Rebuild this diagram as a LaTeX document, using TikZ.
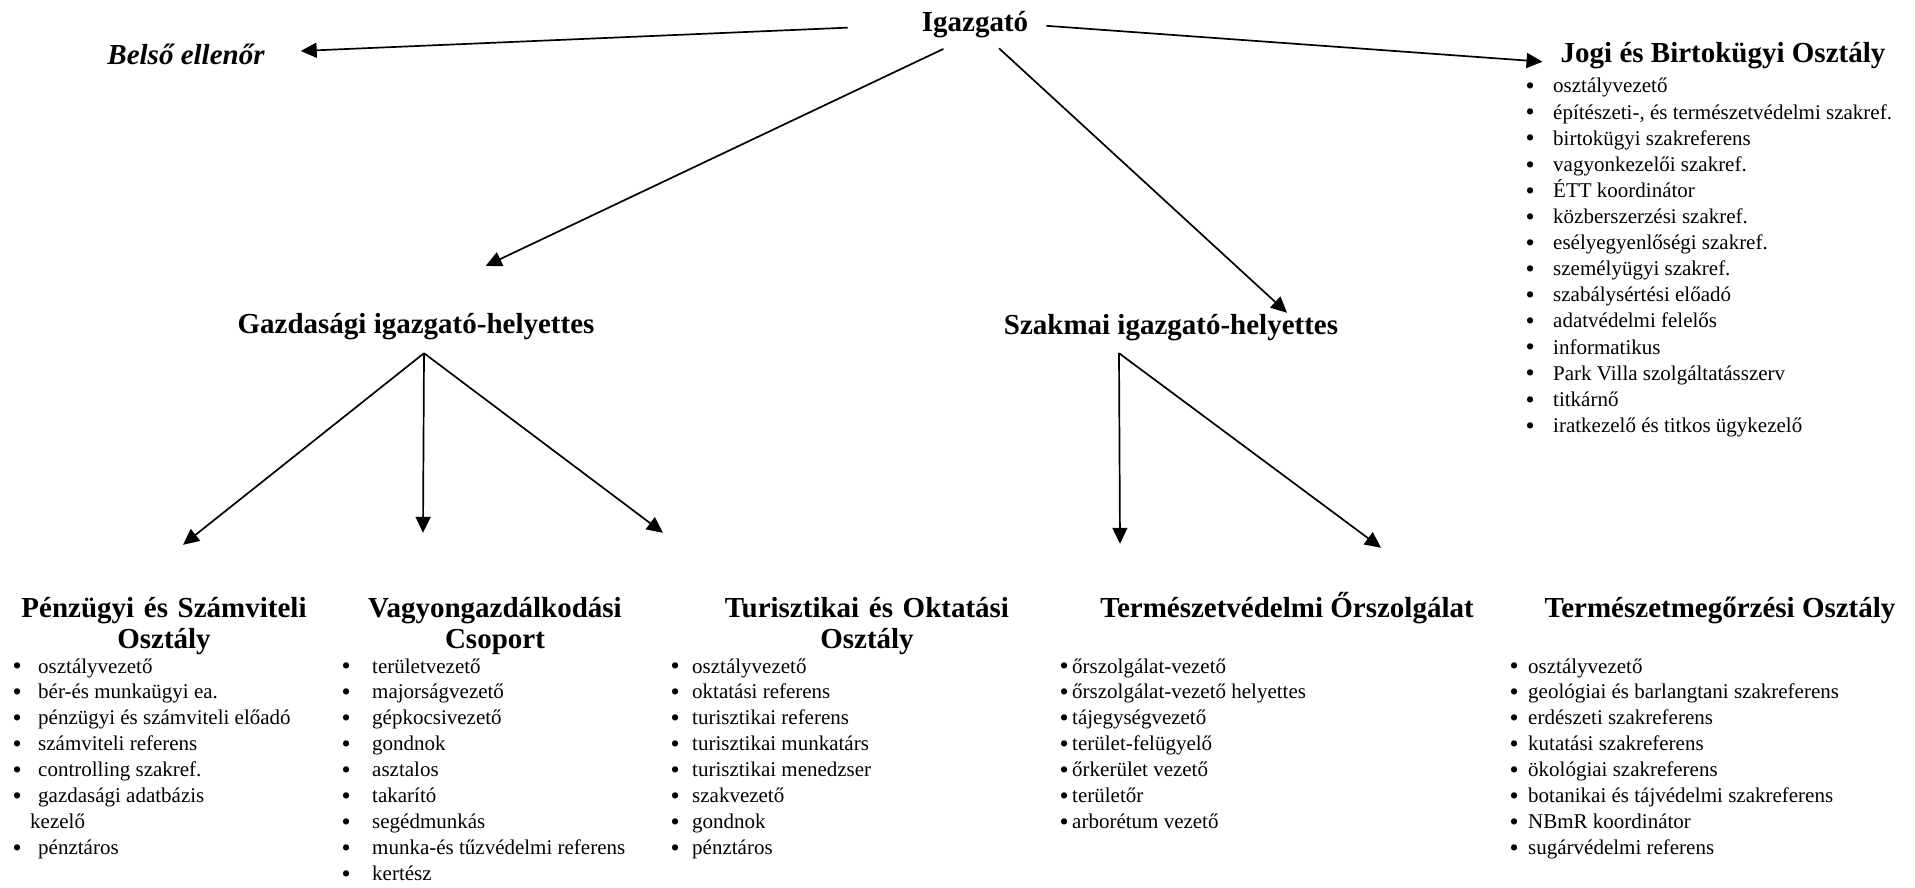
\documentclass[tikz,border=0pt]{standalone}
\usepackage{fontspec}
\setmainfont{Liberation Serif}
\usetikzlibrary{arrows.meta}
\newcommand{\pont}[1]{\makebox[#1][l]{\raisebox{-1.8pt}{\fontsize{26}{26}\selectfont•}}}
\begin{document}
\begin{tikzpicture}[x=1pt,y=-1pt,
  cim/.style={font=\fontsize{29}{31}\selectfont\bfseries, inner sep=0pt, anchor=base, text height=21pt},
  egysor/.style={cim, text depth=6pt},
  ketsor/.style={cim, text width=300pt, align=center},
  elem/.style={font=\fontsize{21}{26}\selectfont, inner sep=0pt, anchor=base west},
  nyil/.style={-{Triangle[length=16pt,width=15pt]}, line width=1.7pt}]
\useasboundingbox (0,0) rectangle (1915,888);

\node(ig)[egysor] at (975,32) {Igazgató};
\node(belso)[egysor,font=\fontsize{29}{31}\selectfont\bfseries\itshape] at (186,65) {Belső ellenőr};
\node(jogi)[egysor] at (1723,63) {Jogi és Birtokügyi Osztály};
\node(gazd)[egysor] at (416,333) {Gazdasági igazgató-helyettes};
\node(szak)[egysor] at (1171,334) {Szakmai igazgató-helyettes};
\node(penz)[ketsor] at (164,617) {Pénzügyi és Számviteli\\Osztály};
\node(vagy)[ketsor] at (495,617) {Vagyongazdálkodási\\Csoport};
\node(tur)[ketsor] at (867,617) {Turisztikai és Oktatási\\Osztály};
\node(tv)[egysor] at (1287,617) {Természetvédelmi Őrszolgálat};
\node(tm)[egysor] at (1720,617) {Természetmegőrzési Osztály};

\foreach \t [count=\i from 0] in {osztályvezető, {építészeti-, és természetvédelmi szakref.}, birtokügyi szakreferens, vagyonkezelői szakref., ÉTT koordinátor, közberszerzési szakref., esélyegyenlőségi szakref., személyügyi szakref., szabálysértési előadó, adatvédelmi felelős, informatikus, Park Villa szolgáltatásszerv, titkárnő, iratkezelő és titkos ügykezelő}
  \node(jogi-\i)[elem] at (1525.5,93+26.1*\i) {\pont{27.5pt}\ignorespaces\t};

\foreach \t [count=\i from 0] in {osztályvezető, bér-és munkaügyi ea., pénzügyi és számviteli előadó, számviteli referens, controlling szakref., gazdasági adatbázis}
  \node(penz-\i)[elem] at (12.5,673+25.9*\i) {\pont{25.5pt}\ignorespaces\t};
\node(penz-6)[elem] at (30,673+25.9*6) {kezelő};
\node(penz-7)[elem] at (12.5,673+25.9*7) {\pont{25.5pt}pénztáros};

\foreach \t [count=\i from 0] in {területvezető, majorságvezető, gépkocsivezető, gondnok, asztalos, takarító, segédmunkás, munka-és tűzvédelmi referens, kertész}
  \node(vagy-\i)[elem] at (341.5,673+25.9*\i) {\pont{30.5pt}\ignorespaces\t};

\foreach \t [count=\i from 0] in {osztályvezető, oktatási referens, turisztikai referens, turisztikai munkatárs, turisztikai menedzser, szakvezető, gondnok, pénztáros}
  \node(tur-\i)[elem] at (670.5,673+25.9*\i) {\pont{21.5pt}\ignorespaces\t};

\foreach \t [count=\i from 0] in {őrszolgálat-vezető, őrszolgálat-vezető helyettes, tájegységvezető, terület-felügyelő, őrkerület vezető, területőr, arborétum vezető}
  \node(tv-\i)[elem] at (1059.5,673+25.9*\i) {\pont{12.5pt}\ignorespaces\t};

\foreach \t [count=\i from 0] in {osztályvezető, geológiai és barlangtani szakreferens, erdészeti szakreferens, kutatási szakreferens, ökológiai szakreferens, botanikai és tájvédelmi szakreferens, NBmR koordinátor, sugárvédelmi referens}
  \node(tm-\i)[elem] at (1509.5,673+25.9*\i) {\pont{18.5pt}\ignorespaces\t};

\draw[nyil,shorten <=74pt,shorten >=36pt] (ig.west) -- ([yshift=5pt]belso.east);
\draw[nyil,shorten <=18pt,shorten >=18pt] (ig.east) -- (jogi.base west);
\draw[nyil,shorten <=25pt,shorten >=107pt] ([xshift=-9pt]ig.south) -- ([xshift=-27pt]gazd.north);
\draw[nyil,shorten <=15pt] ([xshift=13pt]ig.south) -- ([xshift=116pt]szak.north);

\coordinate (gazd-ki) at ([xshift=8pt,yshift=-14pt]gazd.south);
\coordinate (szak-ki) at ([xshift=-52pt,yshift=-13pt]szak.south);
\draw[nyil] (gazd-ki) -- ([xshift=19pt,yshift=51pt]penz.north);
\draw[nyil] (gazd-ki) -- ([xshift=-72pt,yshift=63pt]vagy.north);
\draw[nyil] (gazd-ki) -- ([xshift=-204pt,yshift=63pt]tur.north);
\draw[nyil] (szak-ki) -- ([xshift=-167pt,yshift=52pt]tv.north);
\draw[nyil] (szak-ki) -- ([xshift=-339pt,yshift=48pt]tm.north);
\end{tikzpicture}
\end{document}
